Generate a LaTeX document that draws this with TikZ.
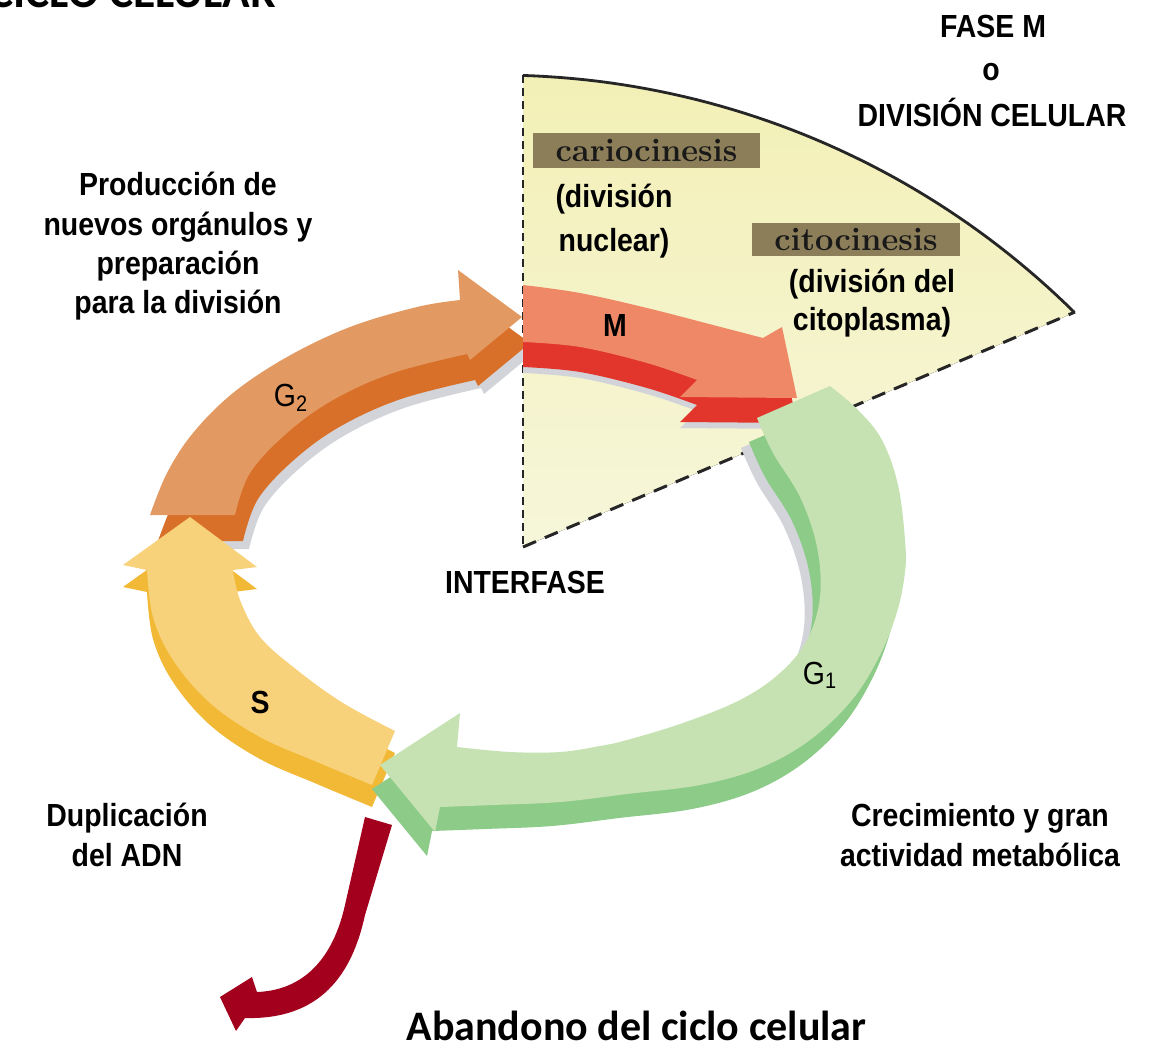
\documentclass[tikz,border=0pt]{standalone}
\usepackage{fontspec}
\newfontfamily\condfont[FakeStretch=0.89]{Liberation Sans}
\newfontfamily\califont{Carlito}
\definecolor{gtwotop}{HTML}{E39A62}
\definecolor{gtwoside}{HTML}{D9702A}
\definecolor{stop}{HTML}{F8D27A}
\definecolor{sside}{HTML}{F1B935}
\definecolor{mtop}{HTML}{EF8866}
\definecolor{mside}{HTML}{E2362C}
\definecolor{gonetop}{HTML}{C6E2B2}
\definecolor{goneside}{HTML}{8DCB88}
\definecolor{shadowgrey}{HTML}{D2D4D9}
\definecolor{exitred}{HTML}{A3001E}
\definecolor{sectortop}{HTML}{F3F0B6}
\definecolor{sectorbot}{HTML}{F6F6DA}
\definecolor{boxolive}{HTML}{8C7E58}

\newcommand\pathGtwo{(150,515) -- plot[smooth,tension=0.6] coordinates {(150,515) (167,473) (193,433) (233,393) (287,357) (350,327) (417,307) (460,300)} -- (458,270) -- (522,317) -- (470,360) -- plot[smooth,tension=0.6] coordinates {(467,354) (393,373) (333,400) (287,433) (250,473) (235,515)} -- cycle}
\newcommand\pathM{(523,285) -- plot[smooth,tension=0.6] coordinates {(523,285) (580,293) (647,308) (713,325) (763,338)} -- (782,327) -- (797,398) -- (680,397) -- (697,380) -- plot[smooth,tension=0.6] coordinates {(697,380) (647,363) (580,347) (523,342)} -- cycle}
\newcommand\pathS{(190,517) -- (257,567) -- (233,570) -- plot[smooth,tension=0.6] coordinates {(233,570) (240,600) (260,637) (297,670) (343,703) (395,731)} -- (372,785) -- plot[smooth,tension=0.6] coordinates {(372,785) (317,762) (260,737) (210,703) (173,660) (153,617) (147,570)} -- (123,565) -- cycle}
\newcommand\pathGone{(757,418) -- (830,386) -- plot[smooth,tension=0.6] coordinates {(830,386) (858,410) (882,440) (898,485) (905,540) (905,572) (897,612) (880,655) (852,700) (810,740) (760,768) (700,785) (627,794) (560,802) (493,805) (440,807)} -- (435,832) -- (380,765) -- (460,713) -- (457,747) -- plot[smooth,tension=0.6] coordinates {(457,747) (510,752) (560,752) (600,746) (627,740) (683,723) (740,700) (780,673) (807,640) (820,597) (817,547) (800,497) (773,453) (757,418)} -- cycle}
\newcommand\pathExit{(365,817) -- (345,905) .. controls (335,950) and (310,990) .. (257,992) -- (252,977) -- (220,997) -- (236,1031) -- (245,1018) .. controls (320,1020) and (352,975) .. (365,915) -- (392,825) -- cycle}

\begin{document}
\begin{tikzpicture}[x=0.02cm,y=-0.02cm,
  lab/.style={font=\condfont\bfseries\fontsize{18.2}{22}\selectfont, inner sep=0pt, anchor=base, text=black},
  labreg/.style={font=\condfont\fontsize{18.2}{22}\selectfont, inner sep=0pt, anchor=base, text=black},
  olivebox/.style={fill=boxolive, inner sep=0pt, font=\bfseries\fontsize{18.6}{22}\selectfont, text=black!90},
  dashv/.style={line width=1.4pt, dash pattern=on 4.5pt off 3pt, draw=black!85},
  dashd/.style={line width=1.7pt, dash pattern=on 8pt off 5.5pt, draw=black!85},
  arcline/.style={line width=1.6pt, draw=black!85},
  calb/.style={font=\califont\bfseries\fontsize{23.9}{28}\selectfont, inner sep=0pt, anchor=base, text=black},
]
\useasboundingbox (0,0) rectangle (1153,1052);
\fill[white] (0,0) rectangle (1153,1052);

% M phase sector
\coordinate (apex) at (523,547);
\coordinate (arcL) at (523,75);
\coordinate (arcR) at (1075,312);
\fill[top color=sectortop, bottom color=sectorbot] (apex) -- (arcL) -- plot[domain=-88.2:-45.3, samples=50] ({497+821*cos(\x)},{896+821*sin(\x)}) -- cycle;
\draw[arcline] plot[domain=-88.2:-45.3, samples=50] ({497+821*cos(\x)},{896+821*sin(\x)});
\draw[dashv] (arcL) -- (apex);
\draw[dashd] (apex) -- (arcR);

% shadows inside the ring
\begin{scope}
\clip plot[domain=0:360, samples=90] ({527+312*cos(\x)},{548+215*sin(\x)}) -- cycle;
\fill[shadowgrey, shift={(14,34)}] \pathGtwo;
\fill[shadowgrey, shift={(0,31)}] \pathM;
\fill[shadowgrey, shift={(-16,30)}] \pathGone;
\end{scope}

% G2
\fill[gtwoside, shift={(8,26)}] \pathGtwo;
\fill[gtwotop] \pathGtwo;
% exit arrow
\fill[exitred] \pathExit;
% S
\fill[sside, shift={(0,22)}] \pathS;
\fill[stop] \pathS;
% M
\fill[mside, shift={(0,25)}] \pathM;
\fill[mtop] \pathM;
% G1
\fill[goneside, shift={(-8,24)}] \pathGone;
\fill[gonetop] \pathGone;

% phase letters
\node[lab] (lM) at (615,336) {M};
\node[labreg] (lGtwo) at (291,406) {G\textsubscript{2}};
\node[lab] (lS) at (260,713) {S};
\node[labreg] (lGone) at (820,684) {G\textsubscript{1}};
\node[lab] (inter) at (525,593) {INTERFASE};

% M phase labels
\node[lab] (fm1) at (993,37) {FASE M};
\node[lab] (fm2) at (991,80) {o};
\node[lab] (fm3) at (992,126) {DIVISIÓN CELULAR};
\node[olivebox, minimum width=129.2pt, minimum height=19.9pt] (cario) at (646.5,150.5) {cariocinesis};
\node[lab] (dn1) at (614,207) {(división};
\node[lab] (dn2) at (614,251) {nuclear)};
\node[olivebox, minimum width=118.4pt, minimum height=18.8pt] (cito) at (856,239.5) {citocinesis};
\node[lab] (dc1) at (872,292) {(división del};
\node[lab] (dc2) at (872,330) {citoplasma)};

% side labels
\node[lab] (p1) at (178,195) {Producción de};
\node[lab] (p2) at (178,235) {nuevos orgánulos y};
\node[lab] (p3) at (178,274) {preparación};
\node[lab] (p4) at (178,313) {para la división};
\node[lab] (d1) at (127,826) {Duplicación};
\node[lab] (d2) at (127,866) {del ADN};
\node[lab] (c1) at (980,826) {Crecimiento y gran};
\node[lab] (c2) at (980,866) {actividad metabólica};

% titles
\node[calb, anchor=base west, font=\califont\bfseries\fontsize{25.9}{30}\selectfont] (title) at (-11,7) {CICLO CELULAR};
\node[calb] (aband) at (636.5,1040) {Abandono del ciclo celular};
\end{tikzpicture}
\end{document}
